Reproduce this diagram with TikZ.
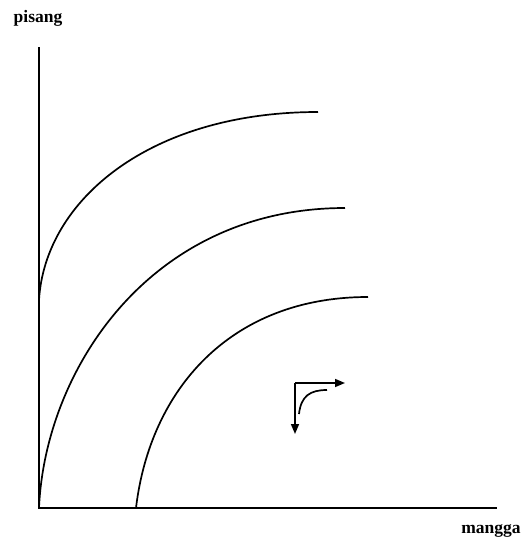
\documentclass[tikz,border=0pt]{standalone}
\usepackage{fontspec}
\setmainfont{Liberation Serif}
\usetikzlibrary{arrows.meta}
\begin{document}
\begin{tikzpicture}[x=1pt,y=-1pt,
  curve/.style={line width=1.7pt},
  axis/.style={line width=1.5pt},
  lbl/.style={font=\bfseries\fontsize{17.5}{20}\selectfont, inner sep=0pt, anchor=base},
  arr/.style={line width=1.6pt,-{Triangle[length=10pt,width=8pt]}}]
\useasboundingbox (0,0) rectangle (528,542);
\node[lbl] (py) at (38,22) {pisang};
\node[lbl] (mx) at (491,533) {mangga};
\coordinate (o) at (39,508);
\coordinate (ytop) at (39,47);
\coordinate (xend) at (497,508);
\draw[axis] (ytop) -- (o) -- (xend);
\draw[curve] (39,300) .. controls (45,200) and (150,112) .. (318,112);
\draw[curve] (o) .. controls (45,370) and (150,208) .. (345,208);
\draw[curve] (136,508) .. controls (150,390) and (230,297) .. (368,297);
\coordinate (c) at (295,383);
\coordinate (ce) at (345,383);
\coordinate (cs) at (295,434);
\draw[arr] (c) -- (ce);
\draw[arr] (c) -- (cs);
\draw[line width=1.7pt] (299,414) .. controls (301,396) and (310,390) .. (327,390);
\end{tikzpicture}
\end{document}
